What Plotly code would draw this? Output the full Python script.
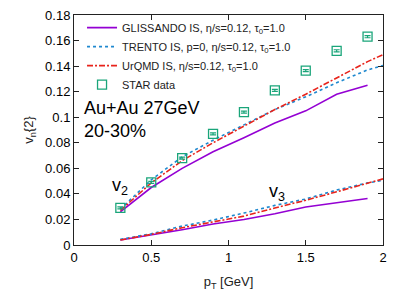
import plotly.graph_objects as go

pt = [0.3, 0.5, 0.7, 0.9, 1.1, 1.3, 1.5, 1.7, 1.9]
pt_ext = [0.3, 0.5, 0.7, 0.9, 1.1, 1.3, 1.5, 1.7, 1.9, 2.0]

star_v2 = [0.029, 0.049, 0.068, 0.087, 0.104, 0.121, 0.1365, 0.152, 0.163]
star_err = [0.0008, 0.0008, 0.0008, 0.0008, 0.0008, 0.0008, 0.0008, 0.0008, 0.0008]

gl_v2 = [0.026, 0.045, 0.060, 0.073, 0.084, 0.0955, 0.105, 0.118, 0.125]
tr_v2 = [0.028, 0.051, 0.069, 0.082, 0.094, 0.106, 0.116, 0.127, 0.137, 0.1405]
ur_v2 = [0.027, 0.0486, 0.066, 0.080, 0.093, 0.106, 0.118, 0.131, 0.1435, 0.149]

gl_v3 = [0.0039, 0.0078, 0.012, 0.0164, 0.020, 0.0245, 0.0297, 0.033, 0.0364]
tr_v3 = [0.0044, 0.0088, 0.0148, 0.0195, 0.025, 0.031, 0.036, 0.043, 0.0486, 0.0505]
ur_v3 = [0.0039, 0.0083, 0.0135, 0.018, 0.0226, 0.029, 0.035, 0.0416, 0.0486, 0.0518]

x_ticks = [0, 0.5, 1, 1.5, 2]
x_labels = ["0", "0.5", "1", "1.5", "2"]
y_ticks = [0, 0.02, 0.04, 0.06, 0.08, 0.1, 0.12, 0.14, 0.16, 0.18]
y_labels = ["0", "0.02", "0.04", "0.06", "0.08", "0.1", "0.12", "0.14", "0.16", "0.18"]

names = ["GLISSANDO IS, η/s=0.12, τ<sub>0</sub>=1.0",
         "TRENTO IS, p=0, η/s=0.12, τ<sub>0</sub>=1.0",
         "UrQMD IS, η/s=0.12, τ<sub>0</sub>=1.0",
         "STAR data"]

c_gl = "#9400D3"
c_tr = "#1E88CF"
c_ur = "#E8231B"
c_st = "#1AA57A"

fig = go.Figure()
fig.add_trace(go.Scatter(x=pt, y=gl_v2, mode="lines", name=names[0],
                         line=dict(color=c_gl, width=1.6)))
fig.add_trace(go.Scatter(x=pt_ext, y=tr_v2, mode="lines", name=names[1],
                         line=dict(color=c_tr, width=1.6, dash="3px,3px")))
fig.add_trace(go.Scatter(x=pt_ext, y=ur_v2, mode="lines", name=names[2],
                         line=dict(color=c_ur, width=1.6, dash="6px,2px,2px,2px")))
fig.add_trace(go.Scatter(x=pt, y=star_v2, mode="markers", name=names[3],
                         marker=dict(symbol="square-open", size=9, color=c_st,
                                     line=dict(width=1.3, color=c_st)),
                         error_y=dict(type="data", array=star_err, color=c_st,
                                      thickness=1.2, width=3)))
fig.add_trace(go.Scatter(x=pt, y=gl_v3, mode="lines", showlegend=False,
                         line=dict(color=c_gl, width=1.6)))
fig.add_trace(go.Scatter(x=pt_ext, y=tr_v3, mode="lines", showlegend=False,
                         line=dict(color=c_tr, width=1.6, dash="3px,3px")))
fig.add_trace(go.Scatter(x=pt_ext, y=ur_v3, mode="lines", showlegend=False,
                         line=dict(color=c_ur, width=1.6, dash="6px,2px,2px,2px")))

axis_common = dict(showgrid=False, zeroline=False, showline=True, linecolor="#222",
                   linewidth=1, mirror="ticks", ticks="inside", ticklen=5,
                   tickcolor="#222", automargin=False,
                   tickfont=dict(size=13, color="black"))

fig.update_xaxes(range=[0, 2], tickvals=x_ticks, ticktext=x_labels,
                 title=dict(text="p<sub>T</sub> [GeV]", font=dict(size=13, color="#222"),
                            standoff=13),
                 **axis_common)
fig.update_yaxes(range=[0, 0.18], tickvals=y_ticks, ticktext=y_labels,
                 title=dict(text="v<sub>n</sub>{2}", font=dict(size=13, color="#222"),
                            standoff=8),
                 **axis_common)

fig.add_annotation(x=0.05, y=0.1072, xref="x", yref="y", text="Au+Au 27GeV",
                   showarrow=False, xanchor="left", font=dict(size=18, color="black"))
fig.add_annotation(x=0.05, y=0.0892, xref="x", yref="y", text="20-30%",
                   showarrow=False, xanchor="left", font=dict(size=18, color="black"))
fig.add_annotation(x=0.23, y=0.046, xref="x", yref="y", text="v<sub>2</sub>",
                   showarrow=False, xanchor="left", font=dict(size=18, color="black"))
fig.add_annotation(x=1.25, y=0.041, xref="x", yref="y", text="v<sub>3</sub>",
                   showarrow=False, xanchor="left", font=dict(size=18, color="black"))

fig.update_layout(
    width=407, height=305,
    margin=dict(l=74, r=24, t=15, b=60),
    paper_bgcolor="white", plot_bgcolor="white",
    font=dict(family="Liberation Sans, Arial, sans-serif", color="black"),
    legend=dict(x=0.026, y=1.008, xanchor="left", yanchor="top",
                bgcolor="rgba(0,0,0,0)", font=dict(size=11, color="#222"),
                tracegroupgap=0, itemwidth=30),
    showlegend=True,
)

fig.write_html("out.html", config={"displayModeBar": False},
               post_script="document.body.style.margin='0';document.body.style.overflow='hidden';")
